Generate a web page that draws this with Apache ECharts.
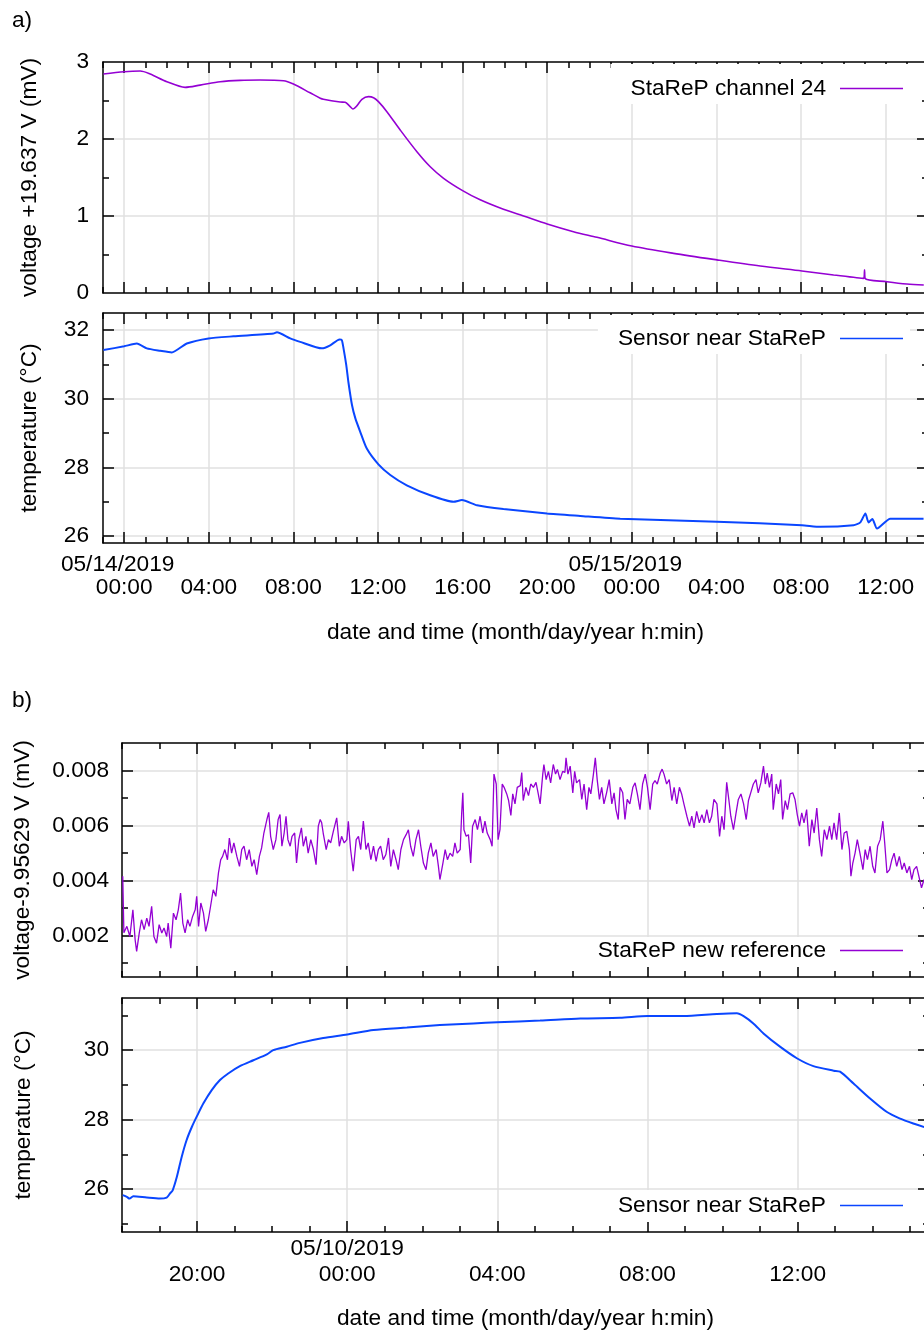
<!DOCTYPE html>
<html><head><meta charset="utf-8">
<script src="https://cdn.jsdelivr.net/npm/echarts@6/dist/echarts.min.js"></script>
<style>html,body{margin:0;padding:0;background:#fff}#c{width:924px;height:1332px}</style>
</head><body><div id="c"></div>
<script>
// ================= DATA =================
// Panel a) x = hours since 05/14/2019 00:00
const aVoltageName = 'StaReP channel 24';
const aVoltage = [[-0.98,2.844],[0,2.874],[0.76,2.883],[1.23,2.844],[2.02,2.744],[2.88,2.671],[3.59,2.70],[4.54,2.744],[5.48,2.762],[6.43,2.766],[7.53,2.757],[8.0,2.714],[8.79,2.60],[9.27,2.53],[9.42,2.516],[10.21,2.481],[10.45,2.477],[10.65,2.43],[10.81,2.39],[11.0,2.43],[11.24,2.516],[11.55,2.55],[11.79,2.536],[12.02,2.485],[12.42,2.355],[13.05,2.117],[13.84,1.835],[14.47,1.64],[15.1,1.49],[16.0,1.33],[16.83,1.21],[17.93,1.087],[18.88,1.0],[20.0,0.896],[21.24,0.796],[22.35,0.723],[24.0,0.61],[25.97,0.515],[28.02,0.43],[30.07,0.35],[32.04,0.286],[33.54,0.234],[34.96,0.19],[35.0,0.30],[35.03,0.188],[36.06,0.147],[37.0,0.117],[37.8,0.104]];
const aTempName = 'Sensor near StaReP';
const aTemp = [[-0.98,31.42],[0,31.53],[0.6,31.61],[1.07,31.47],[1.70,31.40],[2.25,31.35],[2.96,31.61],[3.99,31.76],[5.17,31.82],[7.06,31.90],[7.22,31.94],[7.85,31.76],[8.32,31.66],[9.35,31.47],[9.74,31.56],[10.18,31.73],[10.29,31.71],[10.37,31.47],[10.5,30.98],[10.6,30.49],[10.77,29.82],[10.93,29.43],[11.16,29.04],[11.47,28.55],[12.02,28.09],[12.58,27.78],[13.36,27.48],[14.47,27.19],[15.57,27.0],[15.97,27.05],[16.68,26.90],[17.93,26.79],[19.99,26.66],[21.56,26.59],[23.45,26.51],[28.02,26.42],[32.04,26.32],[32.91,26.27],[34.48,26.32],[34.80,26.40],[35.04,26.66],[35.19,26.40],[35.37,26.50],[35.59,26.22],[36.22,26.51],[37.79,26.51]];

// Panel b) x = hours since 05/09/2019 18:00
const bVoltageName = 'StaReP new reference';
const bVoltage = [[0.02,0.00416],[0.05,0.00211],[0.13,0.00234],[0.21,0.00197],[0.29,0.00294],[0.35,0.00185],[0.39,0.00143],[0.46,0.00210],[0.52,0.00258],[0.59,0.00222],[0.66,0.00264],[0.72,0.00234],[0.79,0.00307],[0.85,0.00197],[0.92,0.00173],[0.99,0.00240],[1.06,0.00210],[1.12,0.00228],[1.19,0.00197],[1.23,0.00246],[1.30,0.00155],[1.37,0.00282],[1.44,0.00258],[1.50,0.00294],[1.56,0.00355],[1.62,0.00246],[1.68,0.00210],[1.75,0.00258],[1.81,0.00234],[1.88,0.00270],[1.95,0.00294],[1.99,0.00343],[2.04,0.00234],[2.10,0.00319],[2.17,0.00282],[2.23,0.00216],[2.30,0.00258],[2.36,0.00307],[2.43,0.00367],[2.50,0.00343],[2.57,0.00428],[2.63,0.00476],[2.68,0.00488],[2.74,0.00513],[2.81,0.00476],[2.86,0.00555],[2.92,0.00500],[2.98,0.00537],[3.06,0.00488],[3.13,0.00452],[3.19,0.00513],[3.25,0.00525],[3.32,0.00476],[3.39,0.00513],[3.46,0.00452],[3.52,0.00476],[3.59,0.00422],[3.66,0.00488],[3.72,0.00519],[3.78,0.00573],[3.86,0.00622],[3.91,0.00648],[3.96,0.00561],[4.03,0.00513],[4.10,0.00549],[4.16,0.00622],[4.21,0.00640],[4.26,0.00525],[4.32,0.00573],[4.37,0.00634],[4.42,0.00549],[4.48,0.00525],[4.53,0.00561],[4.60,0.00573],[4.65,0.00464],[4.71,0.00549],[4.78,0.00592],[4.83,0.00525],[4.90,0.00561],[4.96,0.00500],[5.03,0.00549],[5.10,0.00513],[5.17,0.00458],[5.23,0.00598],[5.28,0.00622],
[5.32,0.00610],[5.36,0.00573],[5.44,0.00513],[5.50,0.00549],[5.56,0.00537],[5.63,0.00579],[5.72,0.00628],[5.79,0.00525],[5.85,0.00561],[5.92,0.00537],[5.99,0.00549],[6.03,0.00616],[6.09,0.00513],[6.16,0.00434],[6.24,0.00549],[6.30,0.00561],[6.36,0.00513],[6.43,0.00616],[6.50,0.00513],[6.56,0.00537],[6.63,0.00476],[6.70,0.00525],[6.77,0.00470],[6.83,0.00513],[6.89,0.00525],[6.96,0.00476],[7.03,0.00495],[7.10,0.00555],[7.16,0.00452],[7.23,0.00513],[7.30,0.00476],[7.36,0.00440],[7.43,0.00513],[7.50,0.00549],[7.57,0.00567],[7.63,0.00585],[7.69,0.00525],[7.76,0.00488],[7.83,0.00549],[7.90,0.00585],[7.96,0.00525],[8.03,0.00464],[8.10,0.00440],[8.16,0.00500],[8.23,0.00537],[8.29,0.00488],[8.37,0.00513],[8.43,0.00452],[8.47,0.00404],[8.55,0.00464],[8.61,0.00513],[8.67,0.00476],[8.74,0.00500],[8.81,0.00488],[8.87,0.00537],[8.93,0.00500],[9.01,0.00513],[9.05,0.00646],[9.08,0.00719],[9.11,0.00585],[9.17,0.00561],[9.23,0.00567],[9.29,0.00464],[9.34,0.00598],[9.41,0.00622],[9.47,0.00585],[9.54,0.00634],[9.61,0.00573],[9.67,0.00616],[9.73,0.00573],[9.81,0.00549],[9.86,0.00525],[9.91,0.00787],[9.97,0.00751],[10.02,0.00549],[10.07,0.00585],[10.13,0.00751],[10.18,0.00739],[10.25,0.00715],[10.30,0.00691],[10.36,0.00637],[10.41,0.00715],[10.47,0.00679],[10.53,0.00739],[10.61,0.00745],[10.65,0.00793],[10.69,0.00691],[10.76,0.00739],[10.83,0.00709],[10.89,0.00751],[10.96,0.00739],[11.03,0.00757],[11.09,0.00715],[11.14,0.00679],[11.21,0.00787],[11.24,0.00822],[11.30,0.00767],[11.36,0.00797],[11.42,0.00755],[11.49,0.00822],[11.55,0.00787],[11.60,0.00804],[11.67,0.00767],[11.74,0.00797],[11.80,0.00793],[11.83,0.00846],[11.88,0.00787],[11.94,0.00816],[12.01,0.00719],[12.06,0.00797],[12.11,0.00755],[12.19,0.00767],[12.25,0.00695],[12.31,0.00751],[12.38,0.00658],[12.44,0.00739],[12.49,0.00715],[12.56,0.00787],[12.61,0.00846],[12.66,0.00767],[12.72,0.00695],[12.78,0.00739],[12.84,0.00679],[12.91,0.00719],[12.98,0.00767],[13.05,0.00679],[13.11,0.00719],[13.16,0.00658],[13.22,0.00622],[13.27,0.00739],
[13.34,0.00719],[13.40,0.00622],[13.46,0.00695],[13.53,0.00679],[13.61,0.00739],[13.67,0.00755],[13.73,0.00715],[13.80,0.00658],[13.87,0.00751],[13.94,0.00787],[14.00,0.00739],[14.07,0.00658],[14.14,0.00751],[14.20,0.00763],[14.26,0.00751],[14.34,0.00791],[14.39,0.00805],[14.44,0.00787],[14.51,0.00751],[14.58,0.00767],[14.65,0.00691],[14.71,0.00739],[14.78,0.00679],[14.85,0.00739],[14.91,0.00715],[14.97,0.00679],[15.05,0.00634],[15.12,0.00598],[15.18,0.00634],[15.24,0.00592],[15.31,0.00652],[15.38,0.00610],[15.45,0.00640],[15.51,0.00610],[15.58,0.00658],[15.65,0.00610],[15.71,0.00634],[15.77,0.00695],[15.85,0.00679],[15.92,0.00561],[15.98,0.00634],[16.04,0.00585],[16.11,0.00757],[16.17,0.00691],[16.22,0.00634],[16.29,0.00585],[16.36,0.00646],[16.42,0.00695],[16.49,0.00715],[16.56,0.00679],[16.63,0.00622],[16.69,0.00691],[16.75,0.00719],[16.82,0.00751],[16.89,0.00767],[16.95,0.00719],[17.02,0.00755],[17.09,0.00816],[17.14,0.00751],[17.19,0.00791],[17.25,0.00739],[17.31,0.00787],[17.35,0.00658],[17.43,0.00751],[17.49,0.00715],[17.55,0.00767],[17.60,0.00622],[17.67,0.00691],[17.73,0.00658],[17.80,0.00715],[17.87,0.00719],[17.93,0.00695],[17.99,0.00640],[18.05,0.00598],[18.11,0.00646],[18.17,0.00610],[18.24,0.00658],[18.31,0.00525],[18.38,0.00622],[18.44,0.00573],[18.51,0.00664],[18.58,0.00549],[18.64,0.00488],[18.71,0.00585],[18.78,0.00549],[18.85,0.00598],[18.91,0.00549],[18.97,0.00610],[19.04,0.00549],[19.11,0.00646],[19.18,0.00513],[19.24,0.00573],[19.31,0.00579],[19.38,0.00513],[19.42,0.00416],[19.47,0.00464],[19.53,0.00500],[19.59,0.00549],[19.66,0.00500],[19.74,0.00440],[19.80,0.00513],[19.86,0.00476],[19.93,0.00525],[20.00,0.00452],[20.06,0.00428],[20.13,0.00525],[20.20,0.00549],[20.27,0.00616],[20.32,0.00537],[20.38,0.00428],[20.45,0.00440],[20.51,0.00476],[20.57,0.00500],[20.64,0.00452],[20.71,0.00488],[20.78,0.00440],[20.84,0.00464],[20.91,0.00428],[20.98,0.00452],[21.04,0.00404],[21.10,0.00440],[21.17,0.00452],[21.24,0.00410],[21.30,0.00374],[21.37,0.00404]];
const bTempName = 'Sensor near StaReP';
const bTemp = [[0.02,25.83],[0.13,25.78],[0.20,25.73],[0.30,25.80],[0.66,25.76],[1.01,25.73],[1.19,25.76],[1.28,25.88],[1.35,25.97],[1.46,26.35],[1.59,26.93],[1.72,27.41],[1.86,27.79],[2.01,28.13],[2.17,28.47],[2.39,28.85],[2.61,29.14],[2.83,29.33],[3.14,29.54],[3.50,29.71],[3.86,29.88],[4.03,30.0],[4.39,30.10],[4.74,30.21],[5.36,30.35],[6.0,30.45],[6.70,30.58],[7.59,30.65],[8.47,30.72],[9.36,30.77],[10.0,30.80],[11.14,30.85],[12.21,30.91],[13.27,30.93],[14.0,30.98],[14.96,30.98],[15.85,31.04],[16.38,31.06],[16.56,30.98],[16.82,30.77],[17.09,30.48],[17.53,30.10],[17.99,29.76],[18.42,29.54],[18.96,29.41],[19.13,29.38],[19.49,29.04],[19.93,28.61],[20.38,28.22],[20.73,28.03],[21.08,27.89],[21.37,27.79]];

// Tick values and labels
const aXTicks = [0,4,8,12,16,20,24,28,32,36];
const aXTimes = ['00:00','04:00','08:00','12:00','16:00','20:00','00:00','04:00','08:00','12:00'];
const aDateTicks = [0,24];
const aDateLabels = ['05/14/2019','05/15/2019'];
const bXTicks = [2,6,10,14,18];
const bXTimes = ['20:00','00:00','04:00','08:00','12:00'];
const bDateTicks = [6];
const bDateLabels = ['05/10/2019'];
const aVoltTicks = [0,1,2,3];
const aVoltLabels = ['0','1','2','3'];
const aTempTicks = [26,28,30,32];
const aTempLabels = ['26','28','30','32'];
const bVoltTicks = [0.002,0.004,0.006,0.008];
const bVoltLabels = ['0.002','0.004','0.006','0.008'];
const bTempTicks = [26,28,30];
const bTempLabels = ['26','28','30'];
const aVoltMinor = [0.5,1.5,2.5];
const aTempMinor = [27,29,31];
const bVoltMinor = [0.001,0.003,0.005,0.007];
const bTempMinor = [25,27,29,31];

// ================= CHART =================
const FONT = "'Liberation Sans', Arial, Helvetica, sans-serif";
const FS = 22.7;
const PURPLE = '#9400d3';
const BLUE = '#0a46ff';
function hourMinors(lo, hi, majors) {
  const out = [];
  for (let h = lo; h <= hi; h++) if (majors.indexOf(h) < 0) out.push(h);
  return out;
}
function findIdx(arr, v) { return arr.findIndex(t => Math.abs(t - v) < 1e-9); }
function lookupFmt(ticks, labels) { return v => { const i = findIdx(ticks, v); return i < 0 ? '' : labels[i]; }; }

const line = { show: true, onZero: false, lineStyle: { color: '#000', width: 1.5 } };
const noLine = { show: false, onZero: false };
const off = { show: false };
const tick = (vals, len) => ({ show: true, inside: true, length: len, customValues: vals, lineStyle: { color: '#000', width: 1.5 } });
const labelBase = { show: true, color: '#000', fontFamily: FONT, fontSize: FS, showMinLabel: true, showMaxLabel: true, hideOverlap: false };

// returns {axes, mainIndex offset 0}
function axisSet(dim, g, c) {
  const posA = dim === 'x' ? 'bottom' : 'left';
  const posB = dim === 'x' ? 'top' : 'right';
  const common = { gridIndex: g, type: 'value', min: c.min, max: c.max };
  const main = Object.assign({}, common, {
    position: posA,
    axisLine: line,
    axisTick: tick(c.tickValues, 11),
    splitLine: { show: true, lineStyle: { color: '#e0e0e0', width: 1.5 } },
    axisLabel: c.label ? Object.assign({}, labelBase, { customValues: c.labelValues }, c.label) : off,
    name: c.name || '',
    nameLocation: 'middle',
    nameGap: c.nameGap || 0,
    nameTextStyle: { color: '#000', fontFamily: FONT, fontSize: FS }
  });
  const out = [main,
    Object.assign({}, common, { position: posA, axisLine: noLine, axisTick: tick(c.minor, 6), axisLabel: off, splitLine: off }),
    Object.assign({}, common, { position: posB, axisLine: line, axisTick: tick(c.tickValues, 11), axisLabel: off, splitLine: off }),
    Object.assign({}, common, { position: posB, axisLine: noLine, axisTick: tick(c.minor, 6), axisLabel: off, splitLine: off })
  ];
  if (c.dateLabel) {
    out.push(Object.assign({}, common, { position: posA, axisLine: noLine, axisTick: off, splitLine: off,
      axisLabel: Object.assign({}, labelBase, { customValues: c.dateLabel.values }, c.dateLabel.style) }));
  }
  return out;
}

const aXMinor = hourMinors(-1, 38, aXTicks);
const bXMinor = hourMinors(0, 21, bXTicks);
const XNAME = 'date and time (month/day/year h:min)';

const xAxes = [];
const xMain = [];
function addX(arr) { xMain.push(xAxes.length); arr.forEach(a => xAxes.push(a)); }
addX(axisSet('x', 0, { min: -1, max: 38, tickValues: aXTicks, minor: aXMinor }));
addX(axisSet('x', 1, { min: -1, max: 38, tickValues: aXTicks, minor: aXMinor, labelValues: aXTicks,
  label: { margin: 33, lineHeight: 23, formatter: lookupFmt(aXTicks, aXTimes) }, name: XNAME, nameGap: 78,
  dateLabel: { values: aDateTicks, style: { margin: 10, lineHeight: 23, padding: [0, 13, 0, 0], formatter: lookupFmt(aDateTicks, aDateLabels) } } }));
addX(axisSet('x', 2, { min: 0, max: 21.5, tickValues: bXTicks, minor: bXMinor }));
addX(axisSet('x', 3, { min: 0, max: 21.5, tickValues: bXTicks, minor: bXMinor, labelValues: bXTicks,
  label: { margin: 30, lineHeight: 26, formatter: lookupFmt(bXTicks, bXTimes) }, name: XNAME, nameGap: 75,
  dateLabel: { values: bDateTicks, style: { margin: 4, lineHeight: 26, formatter: lookupFmt(bDateTicks, bDateLabels) } } }));

const yAxes = [];
const yMain = [];
function addY(arr) { yMain.push(yAxes.length); arr.forEach(a => yAxes.push(a)); }
addY(axisSet('y', 0, { min: 0, max: 3, tickValues: [1,2], minor: aVoltMinor, labelValues: aVoltTicks, label: { margin: 14, formatter: lookupFmt(aVoltTicks, aVoltLabels) }, name: 'voltage +19.637 V (mV)', nameGap: 62 }));
addY(axisSet('y', 1, { min: 25.8, max: 32.5, tickValues: aTempTicks, minor: aTempMinor, labelValues: aTempTicks, label: { margin: 14, formatter: lookupFmt(aTempTicks, aTempLabels) }, name: 'temperature (°C)', nameGap: 62 }));
addY(axisSet('y', 2, { min: 0.0005, max: 0.009, tickValues: bVoltTicks, minor: bVoltMinor, labelValues: bVoltTicks, label: { margin: 13, formatter: lookupFmt(bVoltTicks, bVoltLabels) }, name: 'voltage-9.95629 V (mV)', nameGap: 88 }));
addY(axisSet('y', 3, { min: 24.77, max: 31.5, tickValues: bTempTicks, minor: bTempMinor, labelValues: bTempTicks, label: { margin: 13, formatter: lookupFmt(bTempTicks, bTempLabels) }, name: 'temperature (°C)', nameGap: 87 }));

function legendFor(name, top, pt, pb) {
  return {
    show: true, right: 14, top: top, orient: 'horizontal', align: 'right',
    data: [name], selectedMode: false, backgroundColor: '#fff',
    padding: [pt, 7, pb, 20], itemWidth: 63, itemHeight: 1.5, icon: 'rect', itemGap: 0,
    textStyle: { color: '#000', fontFamily: FONT, fontSize: FS, lineHeight: 22, padding: [0, 9, 0, 0] },
    z: 10
  };
}
function lineSeries(name, data, g, color, w, smooth) {
  return {
    type: 'line', name: name, data: data, xAxisIndex: xMain[g], yAxisIndex: yMain[g],
    showSymbol: false, symbol: 'none', clip: true, smooth: smooth,
    itemStyle: { color: color }, lineStyle: { color: color, width: w },
    emphasis: { disabled: true }, z: 3
  };
}

const chart = echarts.init(document.getElementById('c'), null, { renderer: 'canvas' });
chart.setOption({
  animation: false,
  backgroundColor: '#fff',
  textStyle: { fontFamily: FONT },
  grid: [
    { left: 103, top: 62, width: 825, height: 231, containLabel: false, outerBoundsMode: 'none' },
    { left: 103, top: 313, width: 825, height: 230, containLabel: false, outerBoundsMode: 'none' },
    { left: 122, top: 743, width: 807, height: 234, containLabel: false, outerBoundsMode: 'none' },
    { left: 122, top: 998, width: 807, height: 234, containLabel: false, outerBoundsMode: 'none' }
  ],
  xAxis: xAxes,
  yAxis: yAxes,
  legend: [
    legendFor(aVoltageName, 64, 13, 4),
    legendFor(aTempName, 315, 12, 4),
    legendFor(bVoltageName, 937, 2, 5),
    legendFor(bTempName, 1190, 4, 5)
  ],
  graphic: [
    { type: 'text', left: 12, top: 9, style: { text: 'a)', font: FS + 'px ' + FONT, fill: '#000' } },
    { type: 'text', left: 12, top: 689, style: { text: 'b)', font: FS + 'px ' + FONT, fill: '#000' } }
  ],
  series: [
    lineSeries(aVoltageName, aVoltage, 0, PURPLE, 1.6, 0.3),
    lineSeries(aTempName, aTemp, 1, BLUE, 2, 0.2),
    lineSeries(bVoltageName, bVoltage, 2, PURPLE, 1.3, false),
    lineSeries(bTempName, bTemp, 3, BLUE, 2, 0.25)
  ]
});
</script>
</body></html>
